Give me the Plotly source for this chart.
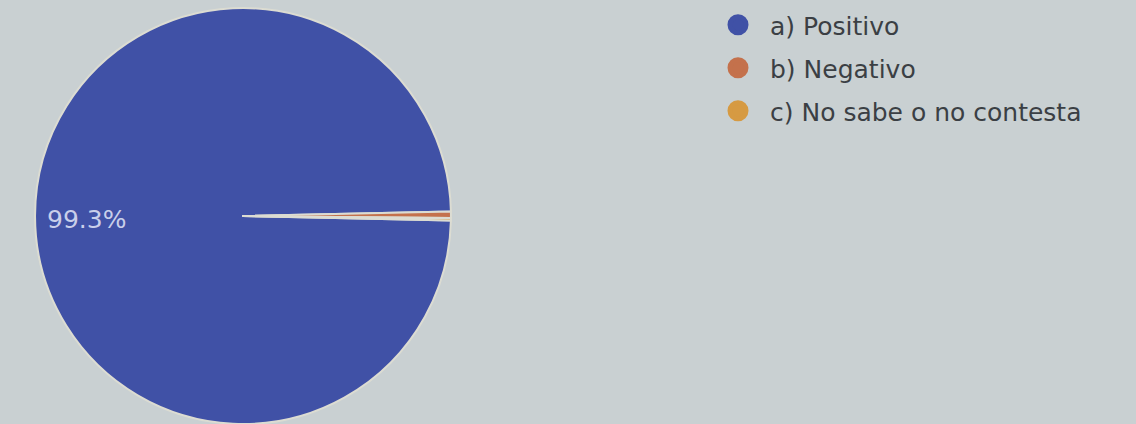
import plotly.graph_objects as go

# Survey answers and their shares (%)
labels = ["a) Positivo", "b) Negativo", "c) No sabe o no contesta"]
values = [99.3, 0.5, 0.2]
colors = ["#4051a6", "#c4714c", "#d69a42"]

FONT = "DejaVu Sans, Liberation Sans, Arial, sans-serif"

total = sum(values)
# turn the pie so the two thin slices sit centred on the 3 o'clock line
minor_share = (total - values[0]) / total
rotation = 90 + minor_share * 360 / 2

fig = go.Figure()

fig.add_trace(go.Pie(
    labels=labels,
    values=values,
    marker=dict(colors=colors, line=dict(color="#dcdcd2", width=2)),
    sort=False,
    direction="clockwise",
    rotation=rotation,
    textinfo="none",
    showlegend=False,
    domain=dict(x=[(243 - 208) / 1136, (243 + 208) / 1136], y=[0.0, 0.981]),
    hoverinfo="label+percent",
))

# percentage label of the dominant slice
fig.add_annotation(
    x=86 / 1136, y=1 - 219 / 424, xref="paper", yref="paper",
    xanchor="center", yanchor="middle", showarrow=False,
    text=f"{values[0] / total * 100:.1f}%",
    font=dict(family=FONT, size=25, color="#c9cfea"),
)

# one legend box per answer, stacked at the top right, round markers
legend_names = ["legend", "legend2", "legend3"]
row_y = [25, 68, 111]
for name, col, lg in zip(labels, colors, legend_names):
    fig.add_trace(go.Scatter(
        x=[None], y=[None], mode="markers", name=name,
        marker=dict(symbol="circle", size=16, color=col, line=dict(color=col, width=5)),
        showlegend=True, hoverinfo="skip", legend=lg,
    ))

legend_style = dict(
    xanchor="left", yanchor="middle",
    bgcolor="rgba(0,0,0,0)",
    font=dict(family=FONT, size=25, color="#3b3f44"),
    itemsizing="trace",
    itemwidth=54,
    borderwidth=0,
)
layout_legends = {}
for lg, ry in zip(legend_names, row_y):
    layout_legends[lg] = dict(x=706 / 1136, y=1 - ry / 424, **legend_style)

fig.update_layout(
    width=1136,
    height=424,
    margin=dict(l=0, r=0, t=0, b=0),
    paper_bgcolor="#c9d0d2",
    plot_bgcolor="rgba(0,0,0,0)",
    xaxis=dict(visible=False),
    yaxis=dict(visible=False),
    **layout_legends,
)

fig.write_html("out.html")
